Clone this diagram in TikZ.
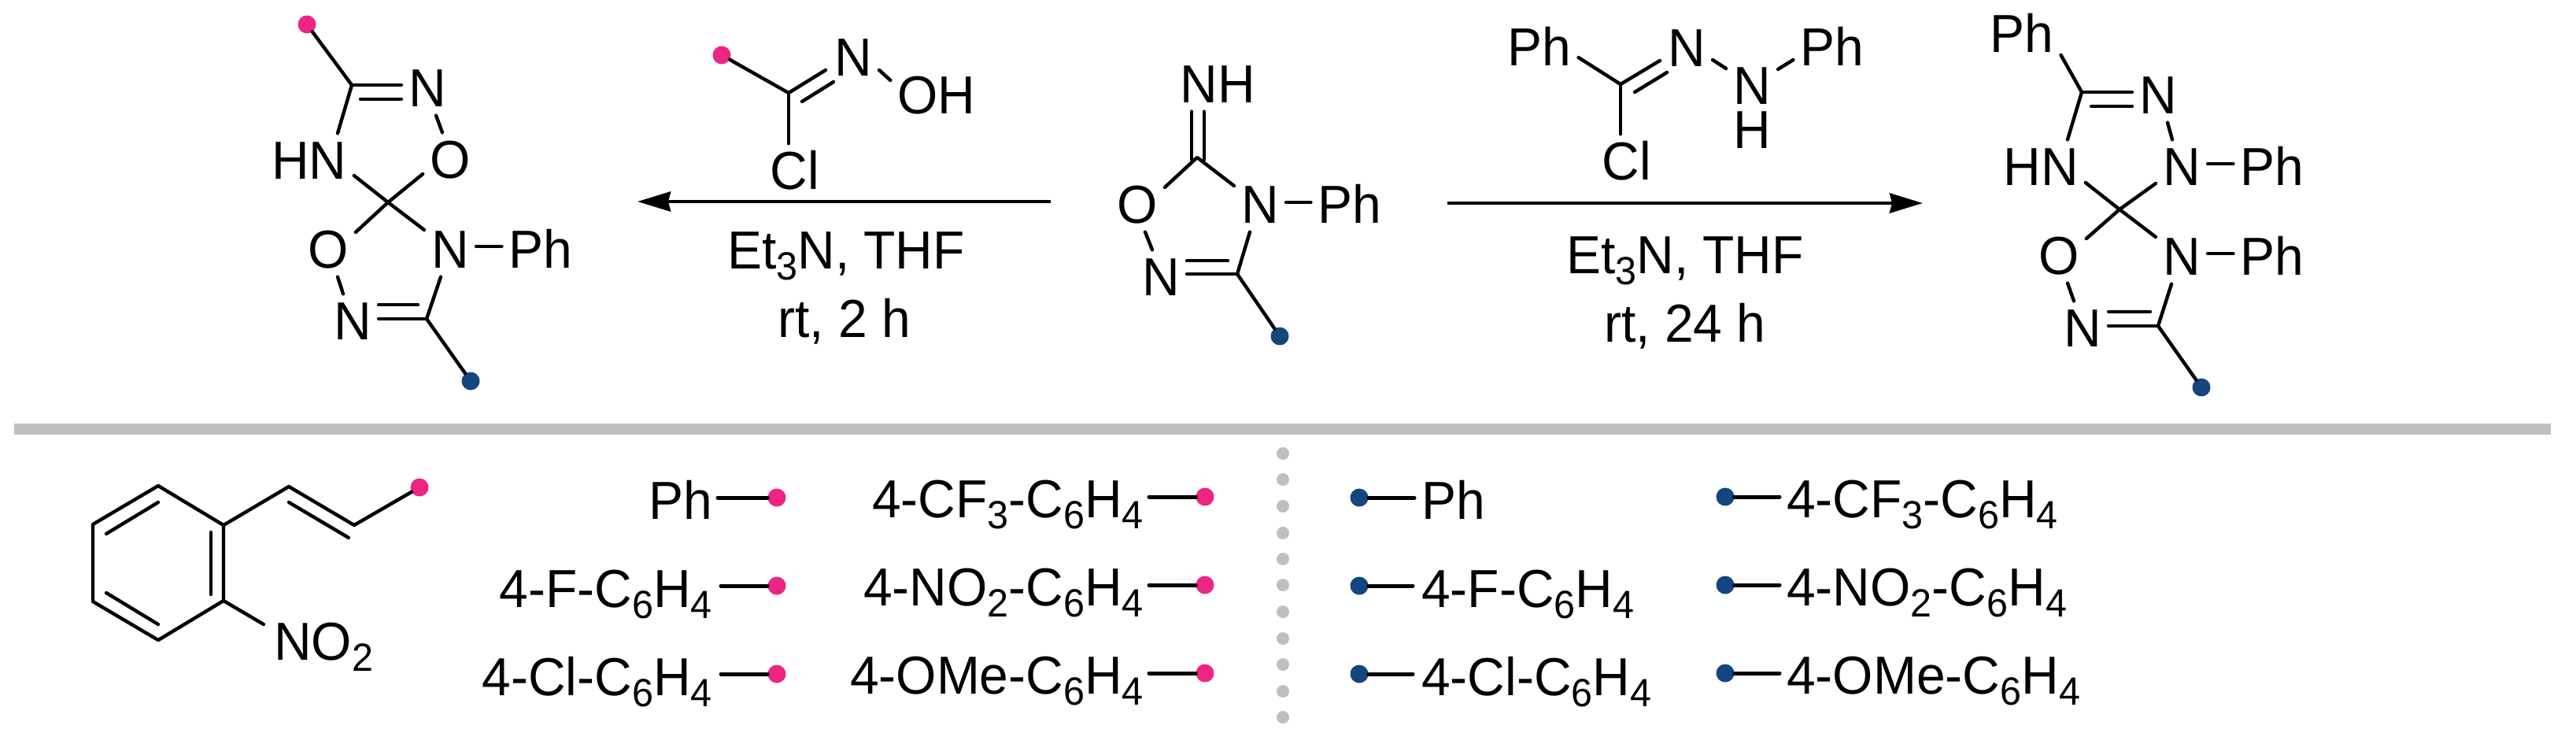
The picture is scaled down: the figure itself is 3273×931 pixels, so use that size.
\documentclass[tikz,border=0pt]{standalone}
\usepackage{fontspec}
\setmainfont[FakeStretch=0.97]{Liberation Sans}
\usetikzlibrary{arrows.meta}
\newcommand{\subs}[1]{\raisebox{-14pt}{\fontsize{50}{50}\selectfont #1}}
\newcommand{\txtsize}{\fontsize{68}{80}\selectfont}
\definecolor{pinkdot}{HTML}{EE2484}
\definecolor{bluedot}{HTML}{15457F}
\definecolor{barg}{HTML}{BFBFBF}
\tikzset{
  bond/.style={line width=4.4pt,line cap=round,line join=round,black},
  lbond/.style={line width=5pt,line cap=round,black},
  atom/.style={font=\txtsize,text height=47pt,text depth=0pt,inner xsep=9pt,inner ysep=11pt},
  cond/.style={font=\txtsize,anchor=base,inner sep=0pt},
  lblr/.style={font=\txtsize,anchor=base east,inner ysep=0pt,inner xsep=#1},
  lbll/.style={font=\txtsize,anchor=base west,inner ysep=0pt,inner xsep=#1},
  pdot/.style={circle,fill=pinkdot,inner sep=0pt,minimum size=23pt},
  bdot/.style={circle,fill=bluedot,inner sep=0pt,minimum size=23pt},
  gdot/.style={circle,fill=barg,inner sep=0pt,minimum size=16pt},
  rxn/.style={line width=4.6pt,black,-{Stealth[length=42pt,width=25pt,inset=3pt]}},
}
\begin{document}
\begin{tikzpicture}[x=1pt,y=-1pt]
\useasboundingbox (0,0) rectangle (3273,931);
% ---------- left product
\node[pdot] (da) at (390,31) {};
\coordinate (C1) at (447,108);
\coordinate (C1b) at (458,126);
\node[atom] (N1) at (543,112) {N};
\node[atom] (HN1) at (393,204) {HN};
\node[atom] (O1) at (572,203) {O};
\coordinate (S1) at (493,257);
\node[atom] (O2) at (417,317) {O};
\node[atom] (N3) at (572,317) {N};
\node[atom] (Ph1) at (687,317) {Ph};
\node[atom] (N2) at (448,408) {N};
\coordinate (C2) at (542,405);
\coordinate (C2b) at (531,387);
\node[bdot] (db) at (598,484) {};
\draw[bond] (da) -- (C1);
\draw[bond] (C1) -- (C1 -| N1.west);
\draw[bond] (C1b) -- (C1b -| N1.west);
\draw[bond] (C1) -- ([xshift=36pt]HN1.north);
\draw[bond] ([xshift=11pt]N1.south) -- ([xshift=-10pt]O1.north);
\draw[bond] ([yshift=-19pt]HN1.east) -- (S1) -- ([yshift=25pt]N3.west);
\draw[bond] ([yshift=-18pt]O1.west) -- (S1) -- ([yshift=22pt]O2.east);
\draw[bond] ([yshift=4pt]N3.east) -- ([yshift=4pt]Ph1.west);
\draw[bond] ([xshift=12pt]O2.south) -- ([xshift=-12pt]N2.north);
\draw[bond] (C2) -- (C2 -| N2.east);
\draw[bond] (C2b) -- (C2b -| N2.east);
\draw[bond] ([xshift=-12pt]N3.south) -- (C2) -- (db);
% ---------- oxime reagent
\node[pdot] (dc) at (917,70) {};
\coordinate (C3) at (1002,118);
\coordinate (E3) at (1049,89);
\coordinate (F3a) at (1019,129);
\coordinate (F3b) at (1059,104);
\node[atom] (N4) at (1084,73) {N};
\node[atom] (OH) at (1190,121) {OH};
\node[atom] (Cl1) at (1010,217) {Cl};
\draw[bond] (dc) -- (C3) -- (E3);
\draw[bond] (F3a) -- (F3b);
\draw[bond] ([yshift=-16pt]N4.east) -- ([yshift=19pt]OH.west);
\draw[bond] (C3) -- (C3 |- Cl1.north);
% left arrow
\coordinate (A1s) at (1335,256);
\coordinate (A1e) at (810,256);
\draw[rxn] (A1s) -- (A1e);
\node[cond] (t1) at (1075,341) {Et\subs{3}N, THF};
\node[cond] (t2) at (1073,428) {rt, 2 h};
% ---------- core
\node[atom] (NH) at (1547,107) {NH};
\coordinate (Cc) at (1521,200);
\coordinate (cL) at (1514,203);
\coordinate (cR) at (1530,203);
\node[atom] (O3) at (1445,260) {O};
\node[atom] (N5) at (1601,260) {N};
\node[atom] (Ph2) at (1715,260) {Ph};
\node[atom] (N6) at (1475,352) {N};
\coordinate (C4) at (1572,348);
\coordinate (C4b) at (1560,331);
\node[bdot] (dd) at (1626,427) {};
\draw[bond] (cL) -- (cL |- NH.south);
\draw[bond] (cR) -- (cR |- NH.south);
\draw[bond] ([yshift=22pt]O3.east) -- (Cc) -- ([yshift=24pt]N5.west);
\draw[bond] ([yshift=3pt]N5.east) -- ([yshift=3pt]Ph2.west);
\draw[bond] ([xshift=10pt]O3.south) -- ([xshift=-11pt]N6.north);
\draw[bond] (C4) -- (C4 -| N6.east);
\draw[bond] (C4b) -- (C4b -| N6.east);
\draw[bond] ([xshift=-13pt]N5.south) -- (C4) -- (dd);
% ---------- hydrazonoyl reagent
\node[atom] (Ph3) at (1956,60) {Ph};
\coordinate (C5) at (2059,107);
\coordinate (E5) at (2109,77);
\coordinate (F5a) at (2077,117);
\coordinate (F5b) at (2118,92);
\node[atom] (N7) at (2143,61) {N};
\node[atom] (N8) at (2226,109) {N};
\node[atom] (H8) at (2226,165) {H};
\node[atom] (Ph4) at (2328,60) {Ph};
\node[atom] (Cl2) at (2067,205) {Cl};
\draw[bond] ([yshift=-13pt]Ph3.east) -- (C5) -- (E5);
\draw[bond] (F5a) -- (F5b);
\draw[bond] ([yshift=-15pt]N7.east) -- ([yshift=22pt]N8.west);
\draw[bond] ([yshift=21pt]N8.east) -- ([yshift=-16pt]Ph4.west);
\draw[bond] (C5) -- (C5 |- Cl2.north);
% right arrow
\coordinate (A2s) at (1839,258);
\coordinate (A2e) at (2443,258);
\draw[rxn] (A2s) -- (A2e);
\node[cond] (t3) at (2141,347) {Et\subs{3}N, THF};
\node[cond] (t4) at (2141,434) {rt, 24 h};
% ---------- right product
\node[atom] (Ph5) at (2569,43) {Ph};
\coordinate (C6) at (2645,117);
\coordinate (C6b) at (2657,135);
\node[atom] (N9) at (2742,121) {N};
\node[atom] (HN2) at (2593,212) {HN};
\node[atom] (N10) at (2772,212) {N};
\node[atom] (Ph6) at (2887,212) {Ph};
\coordinate (S2) at (2693,266);
\node[atom] (O4) at (2616,325) {O};
\node[atom] (N11) at (2772,326) {N};
\node[atom] (Ph7) at (2887,326) {Ph};
\node[atom] (N12) at (2646,417) {N};
\coordinate (C7) at (2742,414);
\coordinate (C7b) at (2732,396);
\node[bdot] (de) at (2797,492) {};
\draw[bond] ([yshift=-27pt]Ph5.east) -- (C6);
\draw[bond] (C6) -- (C6 -| N9.west);
\draw[bond] (C6b) -- (C6b -| N9.west);
\draw[bond] (C6) -- ([xshift=34pt]HN2.north);
\draw[bond] ([xshift=12pt]N9.south) -- ([xshift=-12pt]N10.north);
\draw[bond] ([yshift=-20pt]HN2.east) -- (S2) -- ([yshift=25pt]N11.west);
\draw[bond] ([yshift=-21pt]N10.west) -- (S2) -- ([yshift=22pt]O4.east);
\draw[bond] ([yshift=4pt]N10.east) -- ([yshift=4pt]Ph6.west);
\draw[bond] ([yshift=4pt]N11.east) -- ([yshift=4pt]Ph7.west);
\draw[bond] ([xshift=11pt]O4.south) -- ([xshift=-11pt]N12.north);
\draw[bond] (C7) -- (C7 -| N12.east);
\draw[bond] (C7b) -- (C7b -| N12.east);
\draw[bond] ([xshift=-13pt]N11.south) -- (C7) -- (de);
% ---------- separators
\fill[barg] (18,538) rectangle (3241,552);
\foreach \yy [count=\i] in {576,609,643,677,710,743,777,811,844,878,911}
  \node[gdot] (g\i) at (1630,\yy) {};
% ---------- styryl fragment
\coordinate (b1) at (201,617);
\coordinate (b2) at (284,667);
\coordinate (b3) at (284,763);
\coordinate (b4) at (201,813);
\coordinate (b5) at (118,764);
\coordinate (b6) at (118,666);
\coordinate (i1a) at (135,678);
\coordinate (i1b) at (201,638);
\coordinate (i2a) at (268,676);
\coordinate (i2b) at (268,755);
\coordinate (i3a) at (135,753);
\coordinate (i3b) at (201,793);
\coordinate (v1) at (367,618);
\coordinate (v2) at (450,667);
\coordinate (v3) at (367,638);
\coordinate (v4) at (443,683);
\coordinate (v5) at (335,793);
\node[pdot] (df) at (533,619) {};
\node[font=\txtsize,anchor=base west,inner sep=0pt] (no2) at (348,838) {NO\subs{2}};
\draw[bond] (b1) -- (b2) -- (b3) -- (b4) -- (b5) -- (b6) -- cycle;
\draw[bond] (i1a) -- (i1b);
\draw[bond] (i2a) -- (i2b);
\draw[bond] (i3a) -- (i3b);
\draw[bond] (b2) -- (v1) -- (v2) -- (df);
\draw[bond] (v3) -- (v4);
\draw[bond] (b3) -- (v5);
% ---------- pink column 1
\node[pdot] (p1) at (987,632) {};
\node[pdot] (p2) at (987,744) {};
\node[pdot] (p3) at (987,856) {};
\node[lblr=7pt] (lp1) at (912,659) {Ph};
\node[lblr=11pt] (lp2) at (916,771) {4-F-C\subs{6}H\subs{4}};
\node[lblr=11pt] (lp3) at (916,883) {4-Cl-C\subs{6}H\subs{4}};
\draw[lbond] (p1) -- (p1 -| lp1.east);
\draw[lbond] (p2) -- (p2 -| lp2.east);
\draw[lbond] (p3) -- (p3 -| lp3.east);
% ---------- pink column 2
\node[pdot] (p4) at (1531,631) {};
\node[pdot] (p5) at (1531,743) {};
\node[pdot] (p6) at (1531,855) {};
\node[lblr=7pt] (lp4) at (1460,657) {4-CF\subs{3}-C\subs{6}H\subs{4}};
\node[lblr=7pt] (lp5) at (1460,769) {4-NO\subs{2}-C\subs{6}H\subs{4}};
\node[lblr=7pt] (lp6) at (1460,881) {4-OMe-C\subs{6}H\subs{4}};
\draw[lbond] (p4) -- (p4 -| lp4.east);
\draw[lbond] (p5) -- (p5 -| lp5.east);
\draw[lbond] (p6) -- (p6 -| lp6.east);
% ---------- blue column 1
\node[bdot] (q1) at (1727,632) {};
\node[bdot] (q2) at (1727,744) {};
\node[bdot] (q3) at (1727,856) {};
\node[lbll=9pt] (lq1) at (1797,659) {Ph};
\node[lbll=11pt] (lq2) at (1795,771) {4-F-C\subs{6}H\subs{4}};
\node[lbll=11pt] (lq3) at (1795,883) {4-Cl-C\subs{6}H\subs{4}};
\draw[lbond] (q1) -- (q1 -| lq1.west);
\draw[lbond] (q2) -- (q2 -| lq2.west);
\draw[lbond] (q3) -- (q3 -| lq3.west);
% ---------- blue column 2
\node[bdot] (q4) at (2192,631) {};
\node[bdot] (q5) at (2192,743) {};
\node[bdot] (q6) at (2192,855) {};
\node[lbll=9pt] (lq4) at (2261,657) {4-CF\subs{3}-C\subs{6}H\subs{4}};
\node[lbll=9pt] (lq5) at (2261,769) {4-NO\subs{2}-C\subs{6}H\subs{4}};
\node[lbll=9pt] (lq6) at (2261,881) {4-OMe-C\subs{6}H\subs{4}};
\draw[lbond] (q4) -- (q4 -| lq4.west);
\draw[lbond] (q5) -- (q5 -| lq5.west);
\draw[lbond] (q6) -- (q6 -| lq6.west);
\end{tikzpicture}
\end{document}
